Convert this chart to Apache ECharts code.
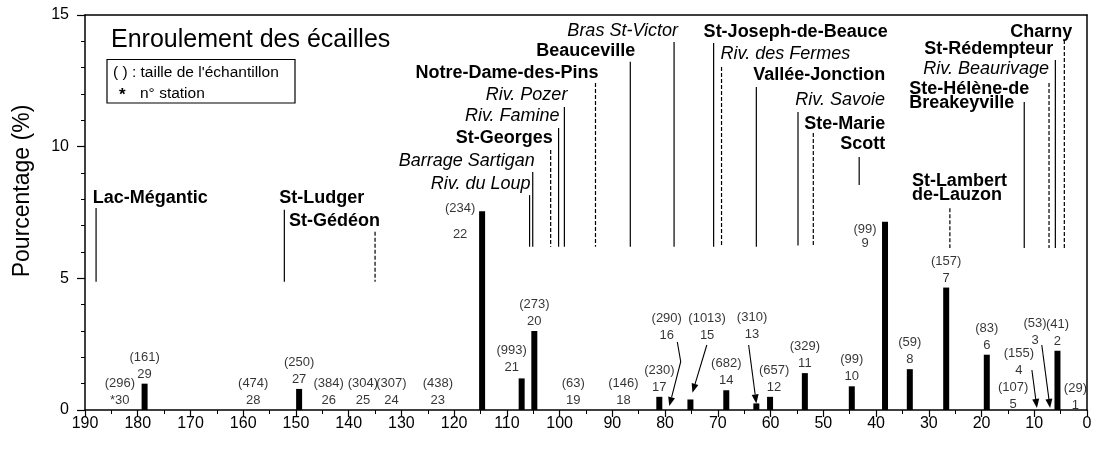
<!DOCTYPE html>
<html><head><meta charset="utf-8">
<script src="https://cdn.jsdelivr.net/npm/echarts@6/dist/echarts.min.js"></script>
<style>html,body{margin:0;padding:0;background:#fff}#c{width:1098px;height:450px}</style>
</head><body><div id="c"></div>
<script>
const FONT = '"Liberation Sans", Arial, Helvetica, sans-serif';

// ---- data: stations (river km, % scale winding, sample size) ----
const stationNo    = [1,2,3,4,5,6,7,8,9,10,11,12,13,14,15,16,17,18,19,20,21,22,23,24,25,26,27,28,29,30];
const stationLabel = ['1','2','3','4','5','6','7','8','9','10','11','12','13','14','15','16','17','18','19','20','21','22','23','24','25','26','27','28','29','*30'];
const stationKm    = [2.2,5.6,7.0,9.5,14.0,19.0,26.7,33.6,38.3,44.6,53.5,60.1,62.7,68.4,75.2,79.2,81.1,87.9,97.4,104.8,107.2,114.7,123.1,131.9,137.3,143.8,149.4,158.1,178.7,183.4];
const pct          = [0,2.25,0,0,0,2.1,4.65,1.55,7.15,0.9,1.4,0.5,0.25,0.75,0.4,0,0.5,0,0,3.0,1.2,7.55,0,0,0,0,0.8,0,1.0,0];
const sampleSize   = [29,41,53,155,107,83,157,59,99,99,329,657,310,682,1013,290,230,146,63,273,993,234,438,307,304,384,250,474,161,296];

// ---- data: localities along the river ----
const placeNames = ['Lac-Mégantic','St-Ludger','St-Gédéon','Riv. du Loup','Barrage Sartigan','St-Georges','Riv. Famine','Riv. Pozer','Notre-Dame-des-Pins','Beauceville','Bras St-Victor','St-Joseph-de-Beauce','Riv. des Fermes','Vallée-Jonction','Riv. Savoie','Ste-Marie','Scott','St-Lambert\nde-Lauzon','Ste-Hélène-de\nBreakeyville','Riv. Beaurivage','St-Rédempteur','Charny'];
const placeKm    = [187.9,152.2,135.0,105.7,105.1,101.7,100.2,99.1,93.2,86.6,78.3,70.8,69.3,62.7,54.8,51.9,43.2,26.0,11.9,7.2,6.0,4.3];
const placeIsRiver = [0,0,0,1,1,0,1,1,0,0,1,0,1,0,1,0,0,0,0,1,0,0];

const xTickValues = [0,10,20,30,40,50,60,70,80,90,100,110,120,130,140,150,160,170,180,190];
const yTickValues = [0,5,10,15];

// ---- layout / style (not data) ----
// leader line span in y-axis units [top, bottom]
const placeLineTop    = [7.67,7.60,6.77,8.16,9.04,9.87,10.71,11.51,12.42,13.22,13.97,13.94,13.03,12.27,11.32,10.52,9.61,7.66,11.70,12.42,13.29,14.05];
const placeLineBottom = [4.87,4.87,4.87,6.20,6.20,6.20,6.20,6.20,6.20,6.20,6.20,6.20,6.20,6.20,6.25,6.20,8.54,6.15,6.15,6.15,6.15,6.15];
const placeDashed     = [0,0,1,0,0,1,0,0,1,0,0,0,1,0,0,1,0,1,0,1,0,1];
// [align, dx px, baseline of last line relative to line top px]
const placeText = [['left',-3.3,-3.5],['left',-5,-6],['right',5,-4.4],['right',1,-5],['right',2,-5],['right',2,-6],['right',1,-5.3],['right',3,-6],['right',3,-4],['right',5,-4.7],['right',4,-5.3],['left',-10,-4.7],['left',-1,-7],['right',129,-5.3],['right',87,-5.3],['right',72,-3],['right',26,-7],['left',-38,-6.6],['left',-115,7],['right',0,-8],['right',-2,-5],['right',8,-1.7]];
const labelShift = {22:{offset:[-22,37],lineHeight:26},21:{offset:[-10,-1]},9:{offset:[-20,30],lineHeight:14},16:{offset:[-2.6,-65]},15:{offset:[16.7,-54.3]},13:{offset:[-4.3,-59]},12:{offset:[4,0]},4:{offset:[-18,-30]},3:{offset:[-15,-60]},1:{offset:[0,5]},5:{offset:[0,4]}};
const arrowPaths = {16:[[8,-68],[11.4,-48.3],[0,-4]],15:[[16.4,-54.5],[2,-6.8]],13:[[-7.7,-58.4],[0,0]],4:[[-5,-40],[0,-2]],3:[[-8.3,-65],[0,-2]]};

function renderPlace(params, api) {
  const i = api.value(3);
  const p0 = api.coord([api.value(0), api.value(1)]);
  const p1 = api.coord([api.value(0), api.value(2)]);
  const t = placeText[i];
  const n = placeNames[i].split('\n').length;
  const lh = 14;
  const cy = p0[1] + t[2] - 6.2 - (n - 1) * lh / 2;
  return {type:'group', children:[
    {type:'line', shape:{x1:p0[0],y1:p0[1],x2:p1[0],y2:p1[1]},
     style:{stroke:'#000', lineWidth:1.2, lineDash: placeDashed[i] ? [4,2] : null}},
    {type:'text', x:p0[0] + t[1], y:cy,
     style:{text:placeNames[i], fill:'#000', fontFamily:FONT, fontSize:18,
            fontWeight: placeIsRiver[i] ? 'normal' : 'bold',
            fontStyle: placeIsRiver[i] ? 'italic' : 'normal',
            align:t[0], verticalAlign:'middle', lineHeight:lh}}
  ]};
}

function renderArrow(params, api) {
  const st = api.value(2);
  const a = api.coord([api.value(0), api.value(1)]);
  const pts = arrowPaths[st].map(o => [a[0] + o[0], a[1] + o[1]]);
  const tip = pts[pts.length - 1], prev = pts[pts.length - 2];
  const ang = Math.atan2(tip[1] - prev[1], tip[0] - prev[0]);
  const L = 9, W = 3.5;
  const bx = tip[0] - L * Math.cos(ang), by = tip[1] - L * Math.sin(ang);
  const head = [tip, [bx + W * Math.sin(ang), by - W * Math.cos(ang)], [bx - W * Math.sin(ang), by + W * Math.cos(ang)]];
  return {type:'group', children:[
    {type:'polyline', shape:{points: pts.slice(0, -1).concat([[bx, by]])}, style:{stroke:'#000', lineWidth:1.1, fill:null}},
    {type:'polygon', shape:{points: head}, style:{fill:'#000'}}
  ]};
}

const frameAxis = {axisLine:{show:true, onZero:false, lineStyle:{color:'#000', width:1.5}}, axisTick:{show:false},
                   axisLabel:{show:false}, splitLine:{show:false}};

const chart = echarts.init(document.getElementById('c'), null, {renderer:'canvas'});
const option = {
  animation:false,
  backgroundColor:'#fff',
  title:{text:'Enroulement des écailles', left:106, top:23,
         textStyle:{fontFamily:FONT, fontSize:25, fontWeight:'normal', color:'#000'}},
  grid:{left:85, right:11, top:15, bottom:40, show:false},
  xAxis:[
    {type:'value', inverse:true, min:0, max:190, interval:10, position:'bottom',
     axisLine:{show:true, onZero:false, lineStyle:{color:'#000', width:1.5}},
     axisTick:{show:true, length:7, lineStyle:{color:'#000', width:1.2}},
     minorTick:{show:true, splitNumber:2, length:4, lineStyle:{color:'#000', width:1}},
     axisLabel:{color:'#000', fontFamily:FONT, fontSize:16, margin:6,
                formatter: v => xTickValues.indexOf(v) >= 0 ? String(v) : ''},
     splitLine:{show:false}},
    Object.assign({type:'value', inverse:true, min:0, max:190, position:'top'}, frameAxis)
  ],
  yAxis:[
    {type:'value', min:0, max:15, interval:5, position:'left',
     axisLine:{show:true, onZero:false, lineStyle:{color:'#000', width:1.5}},
     axisTick:{show:true, length:8, lineStyle:{color:'#000', width:1.2}},
     minorTick:{show:true, splitNumber:5, length:4, lineStyle:{color:'#000', width:1}},
     axisLabel:{color:'#000', fontFamily:FONT, fontSize:16, margin:16,
                formatter: v => yTickValues.indexOf(v) >= 0 ? String(v) : ''},
     splitLine:{show:false}},
    Object.assign({type:'value', min:0, max:15, position:'right'}, frameAxis)
  ],
  graphic:[
    {type:'text', x:23, y:191, rotation:Math.PI/2,
     style:{text:'Pourcentage (%)', fill:'#000', fontFamily:FONT, fontSize:23, align:'center', verticalAlign:'middle'}},
    {type:'rect', shape:{x:107, y:59.5, width:188, height:43.5}, style:{fill:'#fff', stroke:'#000', lineWidth:1.2}},
    {type:'text', x:113, y:73, style:{text:"( ) : taille de l'échantillon", fill:'#000', fontFamily:FONT, fontSize:15.5, verticalAlign:'middle'}},
    {type:'text', x:119, y:95, style:{text:'*', fill:'#000', fontFamily:FONT, fontSize:17, fontWeight:'bold', verticalAlign:'middle'}},
    {type:'text', x:140, y:94, style:{text:'n° station', fill:'#000', fontFamily:FONT, fontSize:15.5, verticalAlign:'middle'}}
  ],
  series:[
    {type:'bar', barWidth:6, itemStyle:{color:'#000'}, silent:true,
     data: stationKm.map((k, i) => [k, pct[i]]).filter(d => d[1] > 0)},
    {type:'scatter', symbolSize:0, silent:true, z:5,
     label:{show:true, position:'top', distance:1, color:'#000', fontFamily:FONT, fontSize:13, lineHeight:17,
            formatter: p => '(' + sampleSize[p.dataIndex] + ')\n' + stationLabel[p.dataIndex]},
     data: stationNo.map((s, i) => {
       const item = {value:[stationKm[i], pct[i]]};
       if (labelShift[s]) item.label = labelShift[s];
       return item;
     })},
    {type:'custom', silent:true, renderItem:renderArrow, z:6,
     data: stationNo.map((s, i) => [stationKm[i], pct[i], s]).filter(d => arrowPaths[d[2]])},
    {type:'custom', silent:true, renderItem:renderPlace, z:4,
     data: placeKm.map((k, i) => [k, placeLineTop[i], placeLineBottom[i], i])}
  ]
};
chart.setOption(option);
</script></body></html>
